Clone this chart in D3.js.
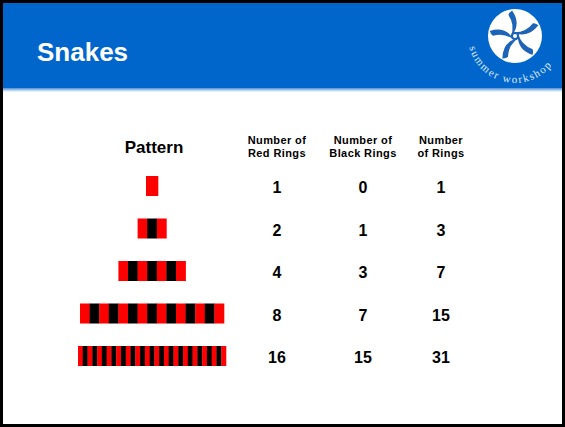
<!DOCTYPE html>
<html>
<head>
<meta charset="utf-8">
<script src="https://cdn.jsdelivr.net/npm/d3@7"></script>
<style>
  body { margin: 0; background: #fff; }
  text { font-family: "Liberation Sans", Arial, sans-serif; }
</style>
</head>
<body>
<div id="slide"></div>
<script>
// table data
var rowLabels = ["1", "2", "3", "4", "5"];
var redRings = [1, 2, 4, 8, 16];
var blackRings = [0, 1, 3, 7, 15];
var totalRings = [1, 3, 7, 15, 31];
var columns = ["Pattern", "Red", "Black", "Total"];
var headerLines = {
    Red: ["Number of", "Red Rings"],
    Black: ["Number of", "Black Rings"],
    Total: ["Number", "of Rings"]
};
var title = "Snakes";
var logoText = "summer workshop";

var width = 565, height = 427;

var svg = d3.select("#slide")
    .append("svg")
    .attr("width", width)
    .attr("height", height);

// header band
var defs = svg.append("defs");
var grad = defs.append("linearGradient")
    .attr("id", "fade").attr("x1", 0).attr("x2", 0).attr("y1", 0).attr("y2", 1);
grad.append("stop").attr("offset", "0%").attr("stop-color", "#4d8fd9");
grad.append("stop").attr("offset", "100%").attr("stop-color", "#ffffff");

svg.append("rect")
    .attr("x", 0).attr("y", 0)
    .attr("width", width).attr("height", 88)
    .attr("fill", "#0066cc");
svg.append("rect")
    .attr("x", 0).attr("y", 88)
    .attr("width", width).attr("height", 4)
    .attr("fill", "url(#fade)");

svg.append("text")
    .attr("x", 37).attr("y", 61)
    .attr("fill", "#fff")
    .style("font-size", "26px")
    .style("font-weight", "bold")
    .text(title);

// logo
var lcx = 515, lcy = 36;
var logo = svg.append("g").attr("transform", "translate(" + lcx + "," + lcy + ")");
logo.append("circle").attr("r", 27).attr("fill", "#fff");
logo.selectAll("path.petal")
    .data(d3.range(5))
    .enter().append("path")
    .attr("class", "petal")
    .attr("transform", function (d) { return "rotate(" + (d * 72 - 20) + ")"; })
    .attr("d", "M-2,-2 Q10,-10 6,-25 Q2,-24 1,-22 Q4,-10 -4,-1 Z")
    .attr("fill", "#1d63b8");
logo.append("circle").attr("r", 4).attr("fill", "#1d63b8");
logo.append("circle").attr("r", 2).attr("fill", "#fff");

var rArc = 47, a0 = 166 * Math.PI / 180, a1 = 14 * Math.PI / 180;
defs.append("path")
    .attr("id", "logoArc")
    .attr("d", "M" + (lcx + rArc * Math.cos(a0)) + "," + (lcy + rArc * Math.sin(a0)) +
        " A" + rArc + "," + rArc + " 0 0 0 " +
        (lcx + rArc * Math.cos(a1)) + "," + (lcy + rArc * Math.sin(a1)));
svg.append("text")
    .attr("fill", "#dfe9f7")
    .style("font-family", "'Liberation Serif', serif")
    .style("font-size", "11px")
    .style("letter-spacing", "1.6px")
    .append("textPath")
    .attr("href", "#logoArc")
    .text(logoText);

// table layout
var x = d3.scaleOrdinal()
    .domain(columns)
    .range([152, 277, 363, 441]);

var y = d3.scalePoint()
    .domain(rowLabels)
    .range([186, 356]);

// column headers
svg.append("text")
    .attr("x", x("Pattern") + 2).attr("y", 153)
    .attr("text-anchor", "middle")
    .style("font-size", "17px")
    .style("font-weight", "bold")
    .text("Pattern");

columns.slice(1).forEach(function (c) {
    headerLines[c].forEach(function (line, i) {
        svg.append("text")
            .attr("x", x(c))
            .attr("y", 144 + i * 13)
            .attr("text-anchor", "middle")
            .style("font-size", "11px")
            .style("font-weight", "bold")
            .style("letter-spacing", "0.4px")
            .text(line);
    });
});

// number cells
var rows = rowLabels.map(function (r, i) {
    return { row: r, Red: redRings[i], Black: blackRings[i], Total: totalRings[i] };
});

columns.slice(1).forEach(function (c) {
    svg.append("g").selectAll("text")
        .data(rows)
        .enter().append("text")
        .attr("x", x(c))
        .attr("y", function (d) { return y(d.row) + 7; })
        .attr("text-anchor", "middle")
        .style("font-size", "16px")
        .style("font-weight", "bold")
        .text(function (d) { return d[c]; });
});

// ring patterns: alternating red / black, starting with red
var ringH = 20;
rows.forEach(function (d) {
    var n = d.Total;
    var w = Math.max(12, Math.min(n * 9.6, 148));
    var rx = d3.scaleBand()
        .domain(d3.range(n))
        .range([x("Pattern") - w / 2, x("Pattern") + w / 2]);
    svg.append("g").selectAll("rect")
        .data(d3.range(n))
        .enter().append("rect")
        .attr("x", function (k) { return rx(k); })
        .attr("y", y(d.row) - ringH / 2)
        .attr("width", rx.bandwidth() + 0.3)
        .attr("height", ringH)
        .attr("fill", function (k) { return k % 2 === 0 ? "#ff0000" : "#000000"; });
});

// slide frame
svg.append("rect")
    .attr("x", 1.5).attr("y", 1.5)
    .attr("width", width - 3).attr("height", height - 3)
    .attr("fill", "none")
    .attr("stroke", "#000")
    .attr("stroke-width", 3);
</script>
</body>
</html>
